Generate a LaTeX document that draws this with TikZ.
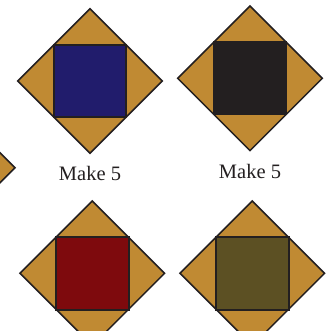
\documentclass[tikz,border=0pt]{standalone}
\usepackage{fontspec}
\setmainfont{Liberation Serif}
\usetikzlibrary{calc}
\definecolor{gold}{HTML}{C08A33}
\definecolor{navyq}{HTML}{211C6C}
\definecolor{blackq}{HTML}{231F20}
\definecolor{redq}{HTML}{7E0A0D}
\definecolor{oliveq}{HTML}{5C5023}
\tikzset{
  diamondpiece/.style={fill=gold, draw=blackq, line width=1.5pt, line join=miter},
  centresquare/.style={draw=blackq, line width=2pt, line join=miter},
  label/.style={font=\fontsize{20.5}{24}\selectfont, text=blackq, anchor=base, inner sep=0pt}
}
\newcommand\quiltblock[3]{% name, centre, colour
  \coordinate (#1) at (#2);
  \draw[diamondpiece] ($(#1)+(0,-72.3)$) -- ($(#1)+(72.3,0)$) -- ($(#1)+(0,72.3)$) -- ($(#1)+(-72.3,0)$) -- cycle;
  \draw[centresquare, fill=#3] ($(#1)+(-36.2,-36.2)$) rectangle ($(#1)+(36.2,36.2)$);
}
\begin{document}
\begin{tikzpicture}[x=1pt, y=-1pt]
  \useasboundingbox (0,0) rectangle (331,331);
  \clip (0,0) rectangle (331,331);
  \coordinate (p) at (-57.3,167.7);
  \draw[diamondpiece] ($(p)+(0,-72.3)$) -- ($(p)+(72.3,0)$) -- ($(p)+(0,72.3)$) -- ($(p)+(-72.3,0)$) -- cycle;
  \quiltblock{tl}{90,81}{navyq}
  \quiltblock{tr}{250,78.3}{blackq}
  \quiltblock{bl}{92.3,273.3}{redq}
  \quiltblock{br}{252.3,273.3}{oliveq}
  \node[label] (m1) at (90,180.7) {Make 5};
  \node[label] (m2) at (250,178.7) {Make 5};
\end{tikzpicture}
\end{document}
